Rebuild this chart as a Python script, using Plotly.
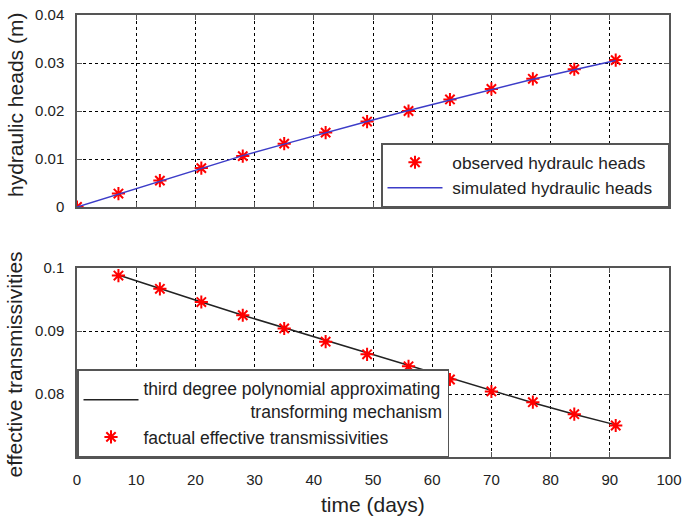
import plotly.graph_objects as go

# ---- data ----
obs_days = [0, 7, 14, 21, 28, 35, 42, 49, 56, 63, 70, 77, 84, 91]
obs_heads = [0.0, 0.0028, 0.0055, 0.0081, 0.0106, 0.0132, 0.0155,
             0.0178, 0.0200, 0.0224, 0.0246, 0.0267, 0.0287, 0.0306]
sim_days = [0, 7, 14, 21, 28, 35, 42, 49, 56, 63, 70, 77, 84, 91]
sim_heads = [0.0, 0.0027, 0.0054, 0.0080, 0.0107, 0.0131, 0.0155,
             0.0178, 0.0201, 0.0223, 0.0245, 0.0266, 0.0286, 0.0305]

trans_days = [7, 14, 21, 28, 35, 42, 49, 56, 63, 70, 77, 84, 91]
trans_obs = [0.0988, 0.0967, 0.0946, 0.0925, 0.0904, 0.0883, 0.0863,
             0.0844, 0.0823, 0.0804, 0.0787, 0.0768, 0.0750]
poly_days = [7, 14, 21, 28, 35, 42, 49, 56, 63, 70, 77, 84, 91]
poly_vals = [0.0989, 0.0967, 0.0946, 0.0925, 0.0905, 0.0885, 0.0865,
             0.0845, 0.0825, 0.0805, 0.0786, 0.0768, 0.0751]

x_ticks = [0, 10, 20, 30, 40, 50, 60, 70, 80, 90, 100]
x_ticktext = ["0", "10", "20", "30", "40", "50", "60", "70", "80", "90", "100"]
y1_ticks = [0, 0.01, 0.02, 0.03, 0.04]
y1_ticktext = ["0", "0.01", "0.02", "0.03", "0.04"]
y2_ticks = [0.08, 0.09, 0.1]
y2_ticktext = ["0.08", "0.09", "0.1"]

FONT = "Liberation Sans, Arial, sans-serif"
TXT = "#222222"
FRAME = "#555555"
NB = "\u00a0"
star = dict(symbol="asterisk-open", size=11, color="red",
            line=dict(color="#ff2020", width=2))

fig = go.Figure()

fig.add_trace(go.Scatter(x=obs_days, y=obs_heads, mode="markers",
                         marker=star, name=NB + "observed hydraulc heads" + NB * 2,
                         xaxis="x", yaxis="y", legend="legend"))
fig.add_trace(go.Scatter(x=sim_days, y=sim_heads, mode="lines",
                         line=dict(color="#3c3cc8", width=1.5),
                         name=NB + "simulated hydraulic heads" + NB * 2,
                         xaxis="x", yaxis="y", legend="legend"))

fig.add_trace(go.Scatter(x=poly_days, y=poly_vals, mode="lines",
                         line=dict(color="#222222", width=1.5),
                         name="third degree polynomial approximating<br>"
                              + NB * 22 + "transforming mechanism",
                         xaxis="x2", yaxis="y2", legend="legend2"))
fig.add_trace(go.Scatter(x=trans_days, y=trans_obs, mode="markers",
                         marker=star, name="factual effective transmissivities",
                         xaxis="x2", yaxis="y2", legend="legend2"))

axis_common = dict(showline=True, linecolor=FRAME, linewidth=1.5, mirror="ticks",
                   ticks="inside", ticklen=5, tickcolor=FRAME, tickwidth=1,
                   showgrid=True, gridcolor="black", griddash="3px,3px", gridwidth=1,
                   zeroline=False, automargin=False, ticklabelstandoff=8,
                   tickfont=dict(family=FONT, size=15, color=TXT))

fig.update_layout(
    width=682, height=519,
    margin=dict(l=77, r=13, t=15, b=62),
    paper_bgcolor="white", plot_bgcolor="white",
    font=dict(family=FONT, color=TXT),
    xaxis=dict(axis_common, domain=[0, 1], range=[0, 100], tickvals=x_ticks,
               ticktext=x_ticktext, showticklabels=False, anchor="y"),
    yaxis=dict(axis_common, domain=[0.5656, 1], range=[0, 0.04],
               tickvals=y1_ticks, ticktext=y1_ticktext, anchor="x"),
    xaxis2=dict(axis_common, domain=[0, 1], range=[0, 100], tickvals=x_ticks,
                ticktext=x_ticktext, anchor="y2"),
    yaxis2=dict(axis_common, domain=[0, 0.4276], range=[0.07, 0.1],
                tickvals=y2_ticks, ticktext=y2_ticktext, anchor="x2"),
    legend=dict(x=1, y=0.5656, xanchor="right", yanchor="bottom",
                bgcolor="white", bordercolor=FRAME, borderwidth=1.5,
                font=dict(family=FONT, size=17.3, color=TXT),
                itemwidth=55, tracegroupgap=0, traceorder="normal"),
    legend2=dict(x=0, y=0, xanchor="left", yanchor="bottom",
                 bgcolor="white", bordercolor=FRAME, borderwidth=1.5,
                 font=dict(family=FONT, size=17.5, color=TXT),
                 itemwidth=55, tracegroupgap=0, traceorder="normal"),
    showlegend=True,
    annotations=[
        dict(text="hydraulic heads (m)", xref="paper", yref="paper",
             x=-0.105, y=0.796, xanchor="center", yanchor="middle",
             textangle=-90, showarrow=False,
             font=dict(family=FONT, size=21, color=TXT)),
        dict(text="effective transmissivities", xref="paper", yref="paper",
             x=-0.105, y=0.209, xanchor="center", yanchor="middle",
             textangle=-90, showarrow=False,
             font=dict(family=FONT, size=21, color=TXT)),
        dict(text="time (days)", xref="paper", yref="paper",
             x=0.5, y=-0.107, xanchor="center", yanchor="middle",
             showarrow=False, font=dict(family=FONT, size=21, color=TXT)),
    ],
)

fig.write_html("out.html",
               config={"displayModeBar": False},
               post_script="document.body.style.margin='0';"
                           "document.body.style.padding='0';")
